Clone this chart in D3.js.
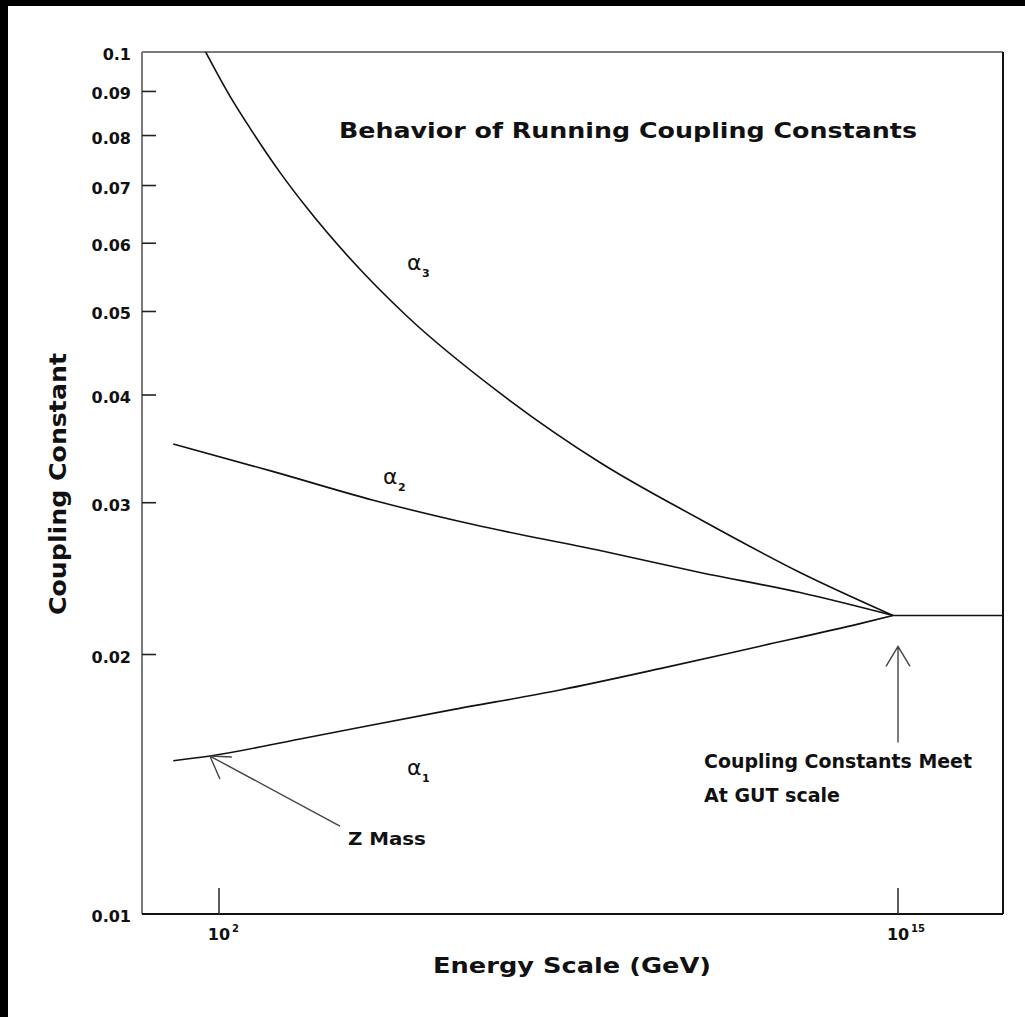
<!DOCTYPE html>
<html>
<head>
<meta charset="utf-8">
<script src="https://cdn.jsdelivr.net/npm/d3@7"></script>
<style>
  html, body { margin: 0; padding: 0; background: #000; }
  svg { display: block; }
  text { font-family: "DejaVu Sans", sans-serif; fill: #111; }
</style>
</head>
<body>
<div id="chart"></div>
<script>
// Values (energy in GeV, coupling constant)
var energyA3 = [55.6, 162, 393, 1470, 4770, 3.68e4, 3.93e5, 2.4e7, 1.97e9, 1.62e11, 1.33e13, 8.0e14];
var alpha3   = [0.1, 0.0889, 0.0816, 0.0725, 0.0660, 0.0571, 0.0494, 0.0402, 0.0334, 0.0287, 0.0249, 0.0222];

var energyA2 = [13.3, 1100, 9.0e4, 7.4e6, 1.97e9, 1.62e11, 1.33e13, 8.0e14];
var alpha2   = [0.0351, 0.0326, 0.0302, 0.0283, 0.0264, 0.0249, 0.0236, 0.0222];

var energyA1 = [13.3, 67.4, 3560, 2.65e6, 3.38e8, 2.78e10, 2.28e12, 1.87e14, 8.0e14];
var alpha1   = [0.01506, 0.01525, 0.01596, 0.01724, 0.01819, 0.01926, 0.02045, 0.02172, 0.0222];

// unified coupling above the GUT scale
var energyGUT = [8.0e14, 1.02e17];
var alphaGUT  = [0.0222, 0.0222];

var xTicks = [1e2, 1e15];
var xTickExp = ["2", "15"];
var yTicks = [0.02, 0.03, 0.04, 0.05, 0.06, 0.07, 0.08, 0.09];
var yLabels = [0.01, 0.02, 0.03, 0.04, 0.05, 0.06, 0.07, 0.08, 0.09, 0.1];
var yLabelText = ["0.01", "0.02", "0.03", "0.04", "0.05", "0.06", "0.07", "0.08", "0.09", "0.1"];

var W = 1025, H = 1017;
var margin = {left: 142, top: 52, right: 22, bottom: 103};
var w = W - margin.left - margin.right;
var h = H - margin.top - margin.bottom;

var svg = d3.select("#chart").append("svg")
    .attr("width", W)
    .attr("height", H);

// white page with thin black strip on top/left
svg.append("rect")
    .attr("x", 8).attr("y", 6)
    .attr("width", W - 8).attr("height", H - 6)
    .attr("fill", "#fff");

var g = svg.append("g")
    .attr("transform", "translate(" + margin.left + "," + margin.top + ")");

var x = d3.scaleLog()
    .domain([Math.pow(10, 0.526), Math.pow(10, 17.01)])
    .range([0, w]);

var y = d3.scaleLog()
    .domain([0.01, 0.1])
    .range([h, 0]);

// frame
g.append("line").attr("x1", 0).attr("x2", w).attr("y1", 0).attr("y2", 0)
    .attr("stroke", "#7a7a7a").attr("stroke-width", 2);
g.append("line").attr("x1", 0).attr("x2", 0).attr("y1", 0).attr("y2", h)
    .attr("stroke", "#7a7a7a").attr("stroke-width", 2);
g.append("line").attr("x1", w).attr("x2", w).attr("y1", 0).attr("y2", h)
    .attr("stroke", "#111").attr("stroke-width", 2);
g.append("line").attr("x1", 0).attr("x2", w).attr("y1", h).attr("y2", h)
    .attr("stroke", "#111").attr("stroke-width", 2);

// y ticks (inward)
g.selectAll(".ytick")
    .data(yTicks)
    .enter()
    .append("line")
    .attr("class", "ytick")
    .attr("x1", 0).attr("x2", 14)
    .attr("y1", function(d) { return y(d); })
    .attr("y2", function(d) { return y(d); })
    .attr("stroke", "#222").attr("stroke-width", 1.6);

g.selectAll(".ylab")
    .data(yLabels)
    .enter()
    .append("text")
    .attr("class", "ylab")
    .attr("x", -11)
    .attr("y", function(d) { return y(d) + 8; })
    .attr("text-anchor", "end")
    .attr("font-size", 16)
    .attr("font-weight", "bold")
    .text(function(d, i) { return yLabelText[i]; });

// x ticks (inward, longer)
g.selectAll(".xtick")
    .data(xTicks)
    .enter()
    .append("line")
    .attr("class", "xtick")
    .attr("x1", function(d) { return x(d); })
    .attr("x2", function(d) { return x(d); })
    .attr("y1", h).attr("y2", h - 26)
    .attr("stroke", "#333").attr("stroke-width", 1.6);

var xl = g.selectAll(".xlab")
    .data(xTicks)
    .enter()
    .append("g")
    .attr("class", "xlab")
    .attr("transform", function(d) { return "translate(" + x(d) + "," + (h + 26) + ")"; });
xl.append("text")
    .attr("text-anchor", "middle")
    .attr("font-size", 16)
    .attr("font-weight", "bold")
    .text("10");
xl.append("text")
    .attr("x", 13)
    .attr("y", -8)
    .attr("font-size", 10)
    .attr("font-weight", "bold")
    .text(function(d, i) { return xTickExp[i]; });

// curves
var line = d3.line()
    .x(function(d) { return x(d[0]); })
    .y(function(d) { return y(d[1]); })
    .curve(d3.curveMonotoneX);

var series = [
    d3.zip(energyA3, alpha3),
    d3.zip(energyA2, alpha2),
    d3.zip(energyA1, alpha1),
    d3.zip(energyGUT, alphaGUT)
];

g.selectAll(".curve")
    .data(series)
    .enter()
    .append("path")
    .attr("class", "curve")
    .attr("d", line)
    .attr("fill", "none")
    .attr("stroke", "#111")
    .attr("stroke-width", 1.6);

// alpha labels
var alphaLabels = [
    {e: 3.98e5, a: 0.05585, sub: "3"},
    {e: 1.38e5, a: 0.0315, sub: "2"},
    {e: 3.98e5, a: 0.01449, sub: "1"}
];
var al = g.selectAll(".alab")
    .data(alphaLabels)
    .enter()
    .append("g")
    .attr("class", "alab")
    .attr("transform", function(d) { return "translate(" + x(d.e) + "," + y(d.a) + ")"; });
al.append("text")
    .attr("font-size", 22)
    .text("\u03b1");
al.append("text")
    .attr("x", 15)
    .attr("y", 7)
    .attr("font-size", 11)
    .attr("font-weight", "bold")
    .text(function(d) { return d.sub; });

// Z mass arrow
var zx = x(67), zy = y(0.01525);
g.append("path")
    .attr("d", "M" + (zx + 130) + "," + (zy + 70) + "L" + zx + "," + zy +
               "M" + (zx + 22) + "," + (zy + 1) + "L" + zx + "," + zy +
               "L" + (zx + 10) + "," + (zy + 23))
    .attr("fill", "none")
    .attr("stroke", "#444")
    .attr("stroke-width", 1.4);
g.append("text")
    .attr("x", zx + 138)
    .attr("y", zy + 89)
    .attr("font-size", 18)
    .attr("font-weight", "bold")
    .attr("textLength", 78)
    .attr("lengthAdjust", "spacingAndGlyphs")
    .text("Z Mass");

// GUT arrow
var gx = x(1e15), gy = y(0.0222);
g.append("path")
    .attr("d", "M" + gx + "," + (gy + 127) + "L" + gx + "," + (gy + 31) +
               "M" + (gx - 12) + "," + (gy + 51) + "L" + gx + "," + (gy + 31) +
               "L" + (gx + 12) + "," + (gy + 51))
    .attr("fill", "none")
    .attr("stroke", "#444")
    .attr("stroke-width", 1.4);
g.append("text")
    .attr("x", 704 - margin.left)
    .attr("y", 768 - margin.top)
    .attr("font-size", 19)
    .attr("font-weight", "bold")
    .attr("textLength", 268)
    .attr("lengthAdjust", "spacingAndGlyphs")
    .text("Coupling Constants Meet");
g.append("text")
    .attr("x", 704 - margin.left)
    .attr("y", 802 - margin.top)
    .attr("font-size", 19)
    .attr("font-weight", "bold")
    .attr("textLength", 136)
    .attr("lengthAdjust", "spacingAndGlyphs")
    .text("At GUT scale");

// title
g.append("text")
    .attr("x", 339 - margin.left)
    .attr("y", 138 - margin.top)
    .attr("font-size", 22)
    .attr("font-weight", "bold")
    .attr("textLength", 578)
    .attr("lengthAdjust", "spacingAndGlyphs")
    .text("Behavior of Running Coupling Constants");

// axis titles
svg.append("text")
    .attr("x", 433)
    .attr("y", 973)
    .attr("font-size", 22)
    .attr("font-weight", "bold")
    .attr("textLength", 278)
    .attr("lengthAdjust", "spacingAndGlyphs")
    .text("Energy Scale (GeV)");

svg.append("text")
    .attr("transform", "translate(66,484) rotate(-90)")
    .attr("text-anchor", "middle")
    .attr("font-size", 23)
    .attr("font-weight", "bold")
    .attr("textLength", 262)
    .attr("lengthAdjust", "spacingAndGlyphs")
    .text("Coupling Constant");
</script>
</body>
</html>
